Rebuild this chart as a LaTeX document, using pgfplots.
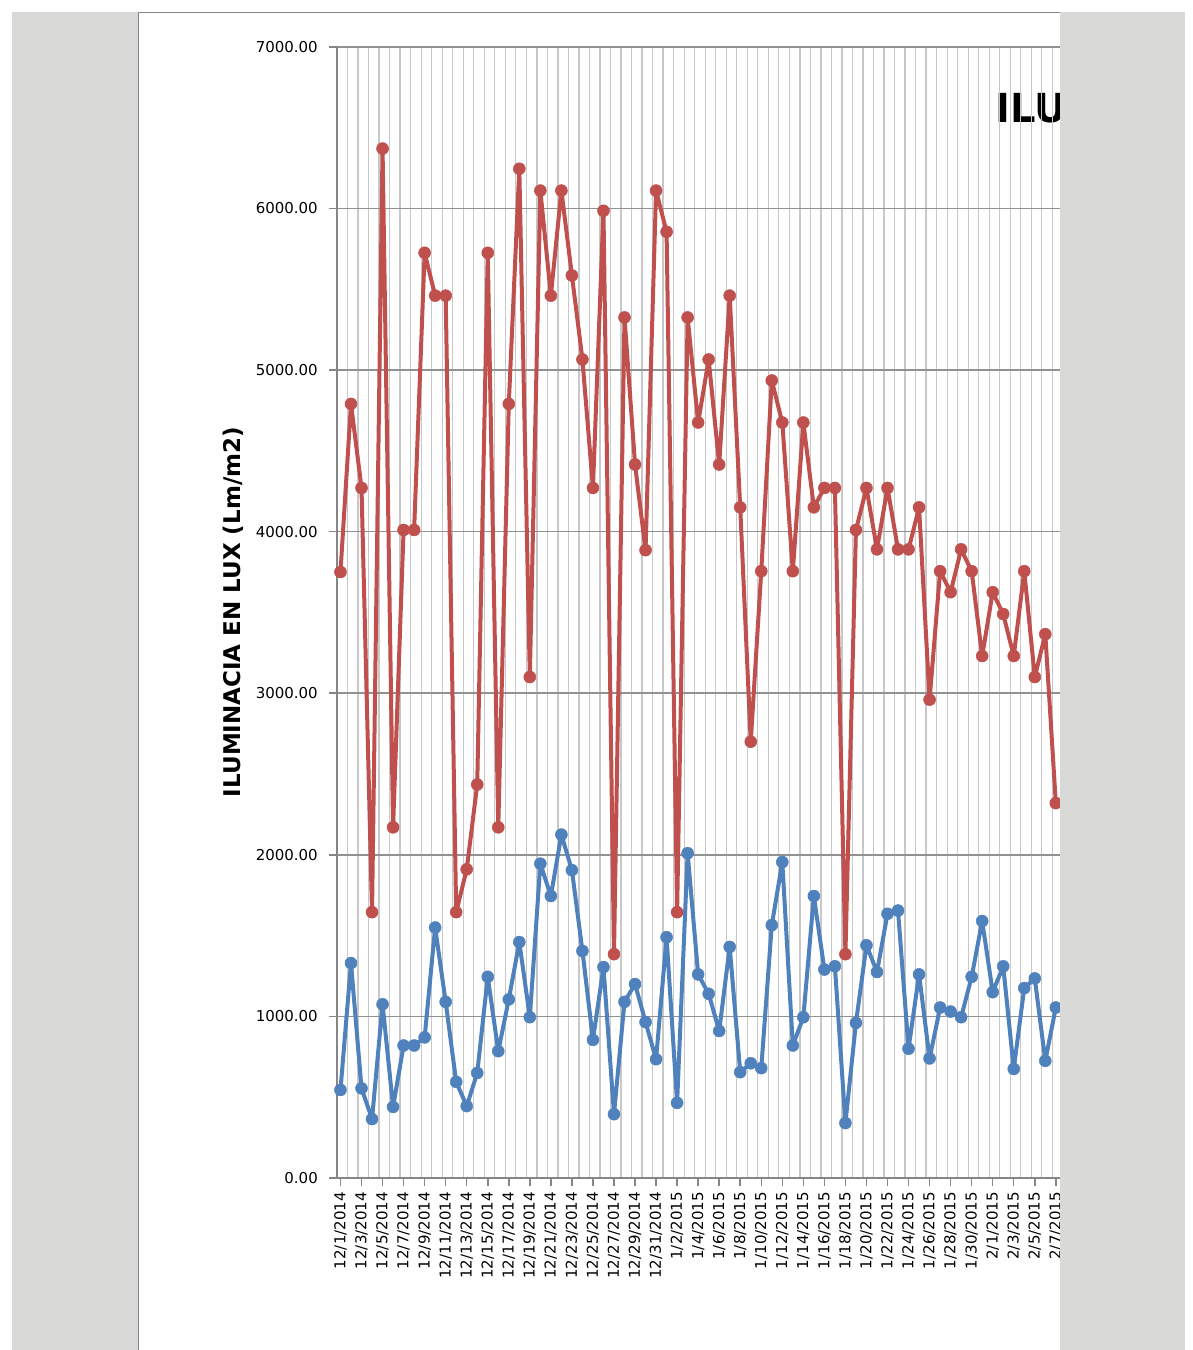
\documentclass[border=0pt]{standalone}
\usepackage{fontspec}
\setmainfont{DejaVu Sans}
\usepackage{pgfplots}
\pgfplotsset{compat=1.18}
\usepackage{pgfplotstable}
\definecolor{xred}{RGB}{192,80,77}
\definecolor{xblue}{RGB}{79,129,189}
\definecolor{pagegray}{RGB}{217,217,215}
\definecolor{hgrid}{RGB}{145,145,145}
\definecolor{vgrid}{RGB}{200,200,200}
\definecolor{axgray}{RGB}{134,134,134}

\pgfplotstableread{
x red blue
0 3750 545
1 4790 1330
2 4270 555
3 1645 365
4 6370 1075
5 2170 440
6 4010 820
7 4010 820
8 5725 870
9 5460 1550
10 5460 1090
11 1645 595
12 1910 445
13 2435 650
14 5725 1245
15 2170 785
16 4790 1105
17 6245 1460
18 3100 995
19 6110 1945
20 5460 1745
21 6110 2125
22 5585 1905
23 5065 1405
24 4270 855
25 5985 1305
26 1385 395
27 5325 1090
28 4415 1200
29 3885 965
30 6110 735
31 5855 1490
32 1645 465
33 5325 2010
34 4675 1260
35 5065 1140
36 4415 910
37 5460 1430
38 4150 655
39 2700 710
40 3755 680
41 4935 1565
42 4675 1955
43 3755 820
44 4675 995
45 4150 1745
46 4270 1290
47 4270 1310
48 1385 340
49 4010 960
50 4270 1440
51 3890 1275
52 4270 1635
53 3890 1655
54 3890 800
55 4150 1260
56 2960 740
57 3755 1055
58 3625 1030
59 3890 995
60 3755 1245
61 3230 1590
62 3625 1150
63 3490 1310
64 3230 675
65 3755 1175
66 3100 1235
67 3365 725
68 2320 1055
}\data

\begin{document}
\begin{tikzpicture}[x=1pt,y=1pt]
\path[use as bounding box] (0pt,0pt) rectangle (1192pt,-1350pt);
\fill[white] (0pt,0pt) rectangle (1192pt,-1350pt);
\node[anchor=base west, font=\bfseries\fontsize{40}{48}\selectfont, inner sep=0pt] at (995pt,-122pt) {ILUMIN};
\begin{axis}[
  at={(337pt,-1178pt)}, anchor=south west,
  scale only axis, width=763pt, height=1131.3pt,
  xmin=-0.33, xmax=72.2, ymin=0, ymax=7000,
  axis lines*=left,
  axis line style={axgray, line width=1.5pt},
  tick align=outside,
  major tick length=8pt, minor tick length=0pt,
  tick style={axgray, line width=1.5pt},
  ytick={0,1000,...,7000},
  ymajorgrids,
  major grid style={hgrid, line width=1.5pt},
  xtick={0,2,...,68},
  xticklabels={12/1/2014,12/3/2014,12/5/2014,12/7/2014,12/9/2014,12/11/2014,12/13/2014,12/15/2014,12/17/2014,12/19/2014,12/21/2014,12/23/2014,12/25/2014,12/27/2014,12/29/2014,12/31/2014,1/2/2015,1/4/2015,1/6/2015,1/8/2015,1/10/2015,1/12/2015,1/14/2015,1/16/2015,1/18/2015,1/20/2015,1/22/2015,1/24/2015,1/26/2015,1/28/2015,1/30/2015,2/1/2015,2/3/2015,2/5/2015,2/7/2015},
  minor xtick={-0.33,0.67,...,72.2},
  xminorgrids,
  minor grid style={vgrid, line width=1.3pt},
  xticklabel shift=4pt,
  yticklabel shift=9pt,
  xticklabel style={rotate=90, anchor=east, font=\fontsize{15}{18}\selectfont, inner sep=2pt},
  yticklabel style={font=\fontsize{15}{18}\selectfont, inner sep=2pt,
    /pgf/number format/.cd, fixed, fixed zerofill, precision=2, 1000 sep={}, assume math mode=true},
  clip=true,
]
\addplot[xblue, line width=4pt, line join=round, line cap=round, mark=*, mark size=6pt, mark options={solid, fill=xblue, draw=xblue, line width=0.5pt}] table[x=x, y=blue]{\data};
\addplot[xred, line width=4pt, line join=round, line cap=round, mark=*, mark size=6pt, mark options={solid, fill=xred, draw=xred, line width=0.5pt}] table[x=x, y=red]{\data};
\end{axis}
\node[rotate=90, font=\bfseries\fontsize{23}{28}\selectfont] at (233pt,-612pt) {ILUMINACIA EN LUX (Lm/m2)};
\fill[pagegray] (1060pt,-12pt) rectangle (1185pt,-1350pt);
\fill[pagegray] (12pt,-12pt) rectangle (138pt,-1350pt);
\draw[axgray, line width=1pt] (138pt,-1350pt) -- (138pt,-12.5pt) -- (1060pt,-12.5pt);
\end{tikzpicture}
\end{document}
